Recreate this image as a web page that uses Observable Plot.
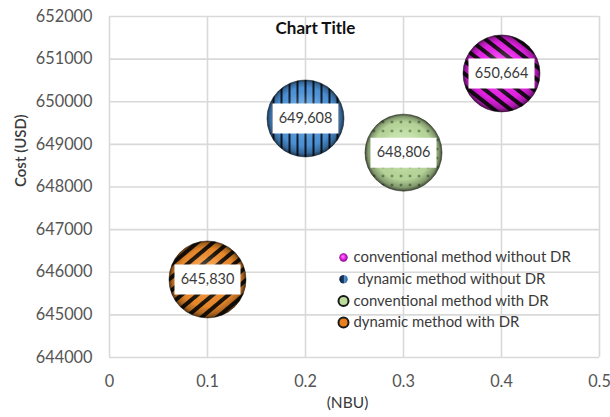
<!DOCTYPE html>
<html>
<head>
<meta charset="utf-8">
<script src="https://cdn.jsdelivr.net/npm/d3@7"></script>
<script src="https://cdn.jsdelivr.net/npm/@observablehq/plot@0.6"></script>
<style>
  html, body { margin: 0; padding: 0; background: #fff; }
  #chart svg { display: block; font-family: Lato, "Open Sans", sans-serif; }
</style>
</head>
<body>
<div id="chart"></div>
<script>
// Series, positions (NBU) and cost values
const series = [
  "conventional method without DR",
  "dynamic method without DR",
  "conventional method with DR",
  "dynamic method with DR"
];
const nbu = [0.4, 0.2, 0.3, 0.1];
const cost = [650664, 649608, 648806, 645830];
const fillKeys = ["pink", "blue", "green", "orange"];

const xTicks = [0, 0.1, 0.2, 0.3, 0.4, 0.5];
const yTicks = [644000, 645000, 646000, 647000, 648000, 649000, 650000, 651000, 652000];

const titleText = ["Chart Title"];
const xLabel = ["(NBU)"];
const yLabel = ["Cost (USD)"];

const points = series.map((s, i) => ({series: s, key: fillKeys[i], nbu: nbu[i], cost: cost[i]}));

// white value box drawn behind each data label
const labelBox = {draw(ctx) { ctx.rect(-33, -15, 66, 30); }};

const gridStyle = {stroke: "#d9d9d9", strokeOpacity: 1, strokeWidth: 1.6};
const bubbleR = 38.5;

// legend: marker + text rows inside the plot frame
const legendMarkerStyle = [
  {r: 4.2, fill: "url(#lg-pink)"},
  {r: 4.2, fill: "url(#lg-blue)"},
  {r: 5, fill: "#bcdc9c", stroke: "#1a1a1a", strokeWidth: 2},
  {r: 5, fill: "#e8801e", stroke: "#1a1a1a", strokeWidth: 2}
];
const legendMarks = series.flatMap((s, i) => {
  const dy = 241 + 21.7 * i;
  return [
    Plot.dot([s], {frameAnchor: "top-left", dx: 234, dy, ...legendMarkerStyle[i]}),
    Plot.text([s], {frameAnchor: "top-left", dx: i === 1 ? 248 : 244, dy, text: d => d,
      textAnchor: "start", lineAnchor: "middle", fontSize: 14.9, fill: "#3a3a3a"})
  ];
});

const chart = Plot.plot({
  width: 610,
  height: 417,
  marginLeft: 109,
  marginRight: 11,
  marginTop: 16,
  marginBottom: 60,
  style: {color: "#555", background: "#fff"},
  x: {domain: [0, 0.5]},
  y: {domain: [644000, 652000]},
  marks: [
    Plot.gridX({ticks: xTicks, ...gridStyle}),
    Plot.gridY({ticks: yTicks, ...gridStyle}),
    Plot.axisX({ticks: xTicks, tickSize: 0, tickPadding: 18, fontSize: 16.3,
      tickFormat: d => String(d), label: null}),
    Plot.axisY({ticks: yTicks, tickSize: 0, tickPadding: 17, fontSize: 16.3,
      tickFormat: d3.format("d"), label: null}),
    Plot.text(xLabel, {frameAnchor: "bottom", dx: -7, dy: 46, text: d => d,
      lineAnchor: "middle", fontSize: 15.5, fill: "#3a3a3a"}),
    Plot.text(yLabel, {frameAnchor: "left", dx: -88, rotate: -90, text: d => d,
      lineAnchor: "middle", fontSize: 15, fontWeight: 600, fill: "#3a3a3a"}),
    Plot.text(titleText, {frameAnchor: "top", dx: -39, dy: 12, text: d => d,
      lineAnchor: "middle", fontSize: 17, fontWeight: "bold", fill: "#111"}),
    // patterned bubbles
    Plot.dot(points, {x: "nbu", y: "cost", r: bubbleR, fill: d => `url(#pat-${d.key})`}),
    // spherical shading over each bubble
    Plot.dot(points, {x: "nbu", y: "cost", r: bubbleR, fill: "url(#shade)",
      stroke: "#1a1a1a", strokeOpacity: 0.5, strokeWidth: 1}),
    // value labels
    Plot.dot(points, {x: "nbu", y: "cost", symbol: labelBox, r: 10, fill: "#fff", stroke: "none"}),
    Plot.text(points, {x: "nbu", y: "cost", text: d => d3.format(",")(d.cost),
      fontSize: 14.5, fill: "#3a3a3a", lineAnchor: "middle"}),
    ...legendMarks
  ]
});

// fill patterns and gradients used by the bubbles
d3.select(chart).insert("defs", ":first-child").html(`
  <pattern id="pat-orange" patternUnits="userSpaceOnUse" width="10" height="10" patternTransform="rotate(-40)">
    <rect width="10" height="10" fill="#f08c2c"/>
    <rect width="10" height="4" fill="#1a1208"/>
  </pattern>
  <pattern id="pat-pink" patternUnits="userSpaceOnUse" width="10" height="10" patternTransform="rotate(38)">
    <rect width="10" height="10" fill="#ea22ea"/>
    <rect width="10" height="4" fill="#1a0a1a"/>
  </pattern>
  <pattern id="pat-blue" patternUnits="userSpaceOnUse" width="8" height="8">
    <rect width="8" height="8" fill="#4f96dc"/>
    <rect width="2" height="8" fill="#0b1a2b"/>
  </pattern>
  <pattern id="pat-green" patternUnits="userSpaceOnUse" width="9" height="9">
    <rect width="9" height="9" fill="#bcdc9e"/>
    <circle cx="4.5" cy="4.5" r="1.1" fill="#2c4a20"/>
  </pattern>
  <radialGradient id="shade" cx="0.5" cy="0.5" r="0.5" fx="0.48" fy="0.4">
    <stop offset="0" stop-color="#fff" stop-opacity="0.35"/>
    <stop offset="0.45" stop-color="#fff" stop-opacity="0.1"/>
    <stop offset="0.75" stop-color="#000" stop-opacity="0.04"/>
    <stop offset="0.92" stop-color="#000" stop-opacity="0.3"/>
    <stop offset="1" stop-color="#000" stop-opacity="0.65"/>
  </radialGradient>
  <radialGradient id="lg-pink" cx="0.5" cy="0.5" r="0.5" fx="0.4" fy="0.35">
    <stop offset="0" stop-color="#ff8cff"/>
    <stop offset="0.6" stop-color="#e01ee0"/>
    <stop offset="1" stop-color="#7a0a7a"/>
  </radialGradient>
  <linearGradient id="lg-blue" x1="0" x2="1" y1="0" y2="0">
    <stop offset="0" stop-color="#0d1d33"/>
    <stop offset="0.5" stop-color="#1d3f6b"/>
    <stop offset="0.5" stop-color="#5a9ee0"/>
    <stop offset="1" stop-color="#2a5f98"/>
  </linearGradient>
`);

document.getElementById("chart").append(chart);
</script>
</body>
</html>
